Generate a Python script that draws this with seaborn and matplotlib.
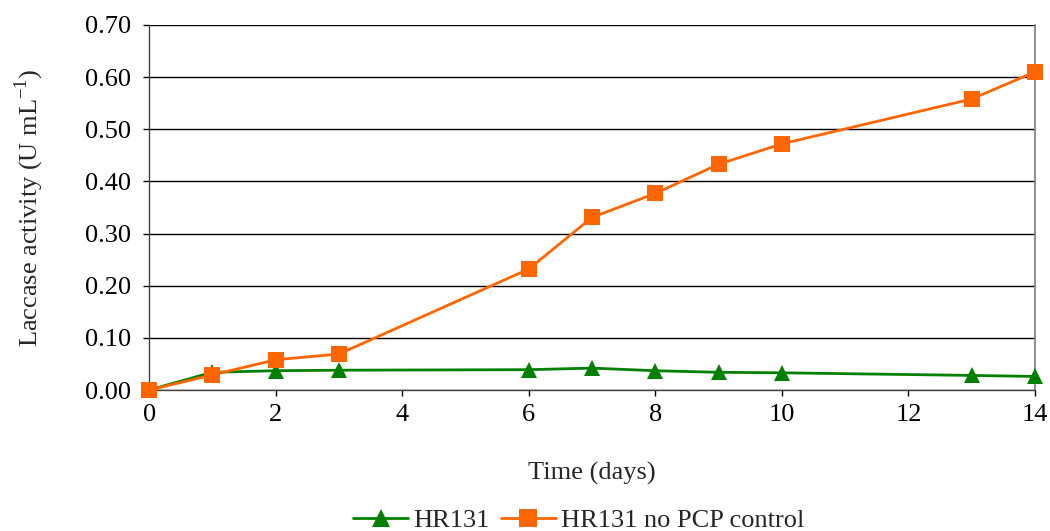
import pandas as pd
import seaborn as sns
import matplotlib.pyplot as plt

# Data
days = [0, 1, 2, 3, 6, 7, 8, 9, 10, 13, 14]
hr131 = [0.000, 0.034, 0.037, 0.038, 0.039, 0.042, 0.037, 0.034, 0.033, 0.028, 0.026]
hr131_no_pcp = [0.000, 0.029, 0.058, 0.069, 0.232, 0.331, 0.377, 0.433, 0.472, 0.558, 0.610]
series_names = ["HR131", "HR131 no PCP control"]

df = pd.DataFrame({
    "day": days * 2,
    "activity": hr131 + hr131_no_pcp,
    "series": [series_names[0]] * len(days) + [series_names[1]] * len(days),
})

sns.set_theme(style="white")
plt.rcParams["font.family"] = ["Liberation Serif", "DejaVu Serif"]
plt.rcParams["mathtext.fontset"] = "custom"
plt.rcParams["mathtext.rm"] = "Liberation Serif"

fig = plt.figure(figsize=(10.5, 5.31), dpi=100)
ax = fig.add_axes([0.142, 0.2655, 0.8437, 0.6875])

sns.lineplot(
    data=df, x="day", y="activity", hue="series", style="series",
    palette={"HR131": "#008000", "HR131 no PCP control": "#FF6600"},
    markers={"HR131": "^", "HR131 no PCP control": "s"},
    dashes=False, markersize=12, linewidth=2, markeredgewidth=0,
    ax=ax, clip_on=False, zorder=3,
)

ax.set_xlim(0, 14)
ax.set_ylim(0, 0.70)
ax.set_xticks(range(0, 15, 2))
ax.set_yticks([i / 10 for i in range(8)])
ax.set_yticklabels([f"{i / 10:.2f}" for i in range(8)])
ax.yaxis.grid(True, color="black", linewidth=1)
ax.set_axisbelow(True)
ax.tick_params(axis="both", labelsize=19, direction="out", length=4,
               width=1, colors="black", left=True, bottom=True)
ax.tick_params(axis="y", pad=9)
ax.tick_params(axis="x", pad=6)

for side in ["left", "bottom"]:
    ax.spines[side].set_color("#444444")
    ax.spines[side].set_linewidth(1)
ax.spines["right"].set_color("#808080")
ax.spines["top"].set_visible(False)

ax.set_xlabel("Time (days)", fontsize=19, labelpad=26)
ax.set_ylabel(r"Laccase activity (U mL$^{\mathregular{-1}}$)", fontsize=19, labelpad=28)

handles, labels = ax.get_legend_handles_labels()
for h in handles:
    h.set_markersize(13)
ax.legend(handles, labels, loc="upper center", bbox_to_anchor=(0.485, -0.295),
          ncol=2, frameon=False, fontsize=19, handlelength=2.1,
          columnspacing=0.4, handletextpad=0.2, borderaxespad=0)

plt.savefig("out.png", dpi=100)
